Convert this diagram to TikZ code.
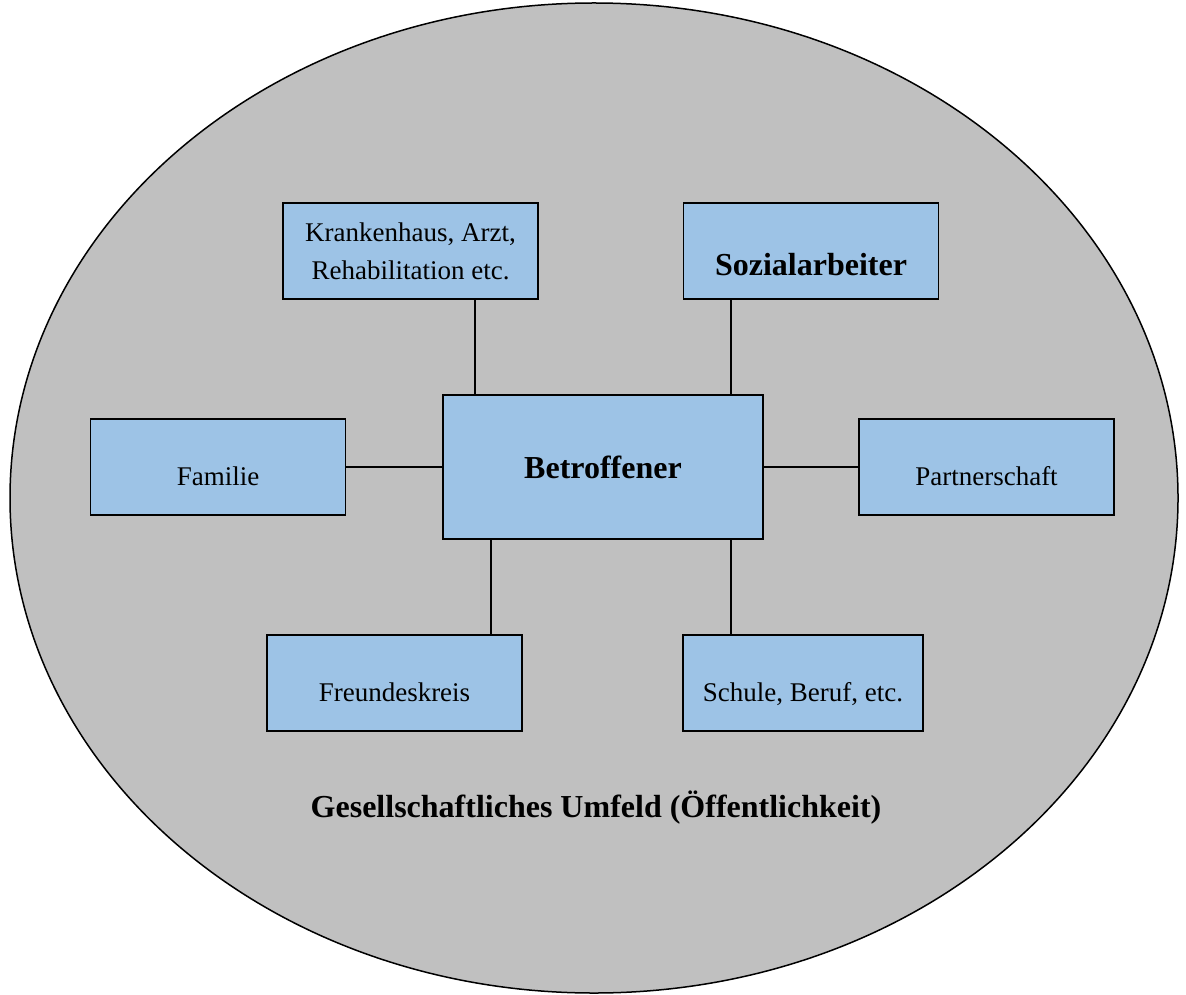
\documentclass[tikz,border=0pt]{standalone}
\usepackage{fontspec}
\setmainfont{Liberation Serif}
\usetikzlibrary{positioning}
\definecolor{box_blue}{HTML}{9DC3E6}
\definecolor{field_grey}{HTML}{C0C0C0}

\begin{document}
\begin{tikzpicture}[
        x=0.5pt, y=-0.5pt,
        onlytext/.style={align=center, font=\fontsize{16}{19}\selectfont\bfseries},
        halfbox/.style={rectangle, draw, fill=box_blue, line width=0.75pt, align=center,
            minimum width=127.5pt, minimum height=48pt, inner sep=2pt, font=\fontsize{13.5}{19}\selectfont},
        lowbox/.style={halfbox, text height=21pt, text depth=3pt},
        bigbox/.style={halfbox, minimum width=160pt, minimum height=72pt, font=\fontsize{16}{19}\selectfont\bfseries},
        normalline/.style={line width=0.75pt},
    ]
    \useasboundingbox (0,0) rectangle (1186,994);

    % ------------ Umfeld
    \draw[fill=field_grey, line width=0.75pt] (594,498) ellipse [x radius=584, y radius=495];

    % ------------ Boxes
    \node[bigbox] (betroffener) at (603,467) {Betroffener};
    \node[halfbox] (krankenhaus) at (410.5,251) {Krankenhaus, Arzt,\\Rehabilitation etc.};
    \node[halfbox, font=\fontsize{16}{19}\selectfont\bfseries, text height=28pt, text depth=3pt] (sozial) at (811,251) {Sozialarbeiter};
    \node[lowbox] (familie) at (218,467) {Familie};
    \node[lowbox] (partner) at (986.5,467) {Partnerschaft};
    \node[lowbox] (freunde) at (394.5,683) {Freundeskreis};
    \node[lowbox, minimum width=120pt] (schule) at (803,683) {Schule, Beruf, etc.};

    % ------------ Connectors
    \draw[normalline] (krankenhaus.south -| 475,0) -- (betroffener.north -| 475,0);
    \draw[normalline] (sozial.south -| 731,0) -- (betroffener.north -| 731,0);
    \draw[normalline] (familie) -- (betroffener);
    \draw[normalline] (betroffener) -- (partner);
    \draw[normalline] (betroffener.south -| 491,0) -- (freunde.north -| 491,0);
    \draw[normalline] (betroffener.south -| 731,0) -- (schule.north -| 731,0);

    \node[onlytext] (umfeld) at (596,808) {Gesellschaftliches Umfeld (Öffentlichkeit)};
\end{tikzpicture}
\end{document}
